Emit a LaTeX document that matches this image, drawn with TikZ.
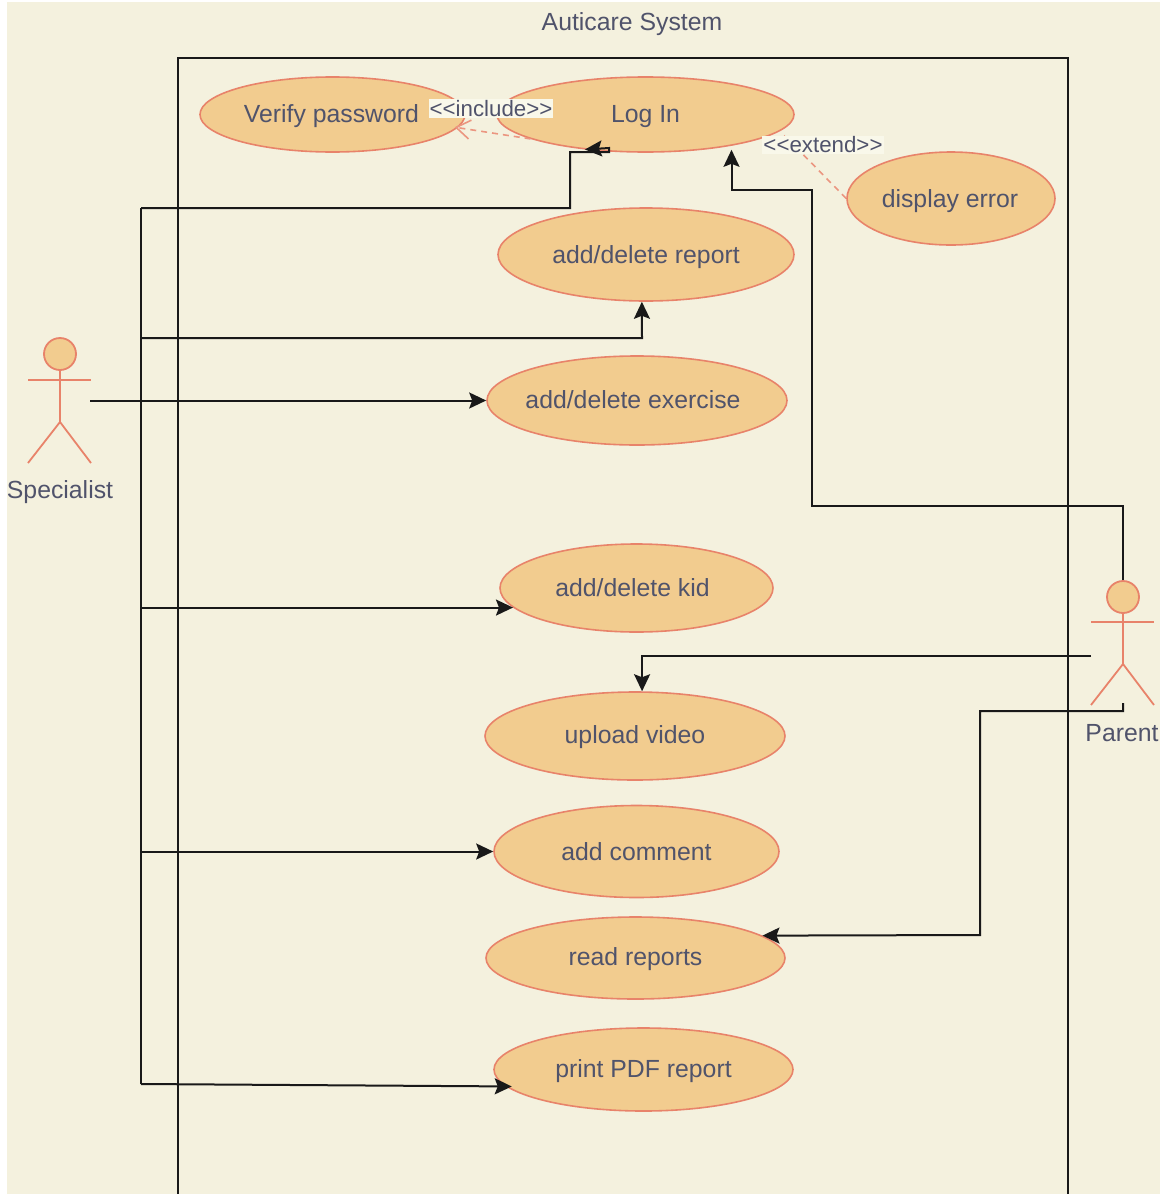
\documentclass[tikz,border=0pt]{standalone}
\usepackage{fontspec}
\setmainfont{Liberation Sans}
\usetikzlibrary{arrows.meta,shapes.geometric}
\definecolor{bgc}{HTML}{F4F1DE}
\definecolor{strokec}{HTML}{E8836A}
\definecolor{fillc}{HTML}{F2CC8F}
\definecolor{textc}{HTML}{50536B}
\definecolor{labelc}{HTML}{F9F8EA}
\tikzset{
  usecase/.style={ellipse,draw=strokec,fill=fillc,line width=1.6pt,inner sep=0pt,text=textc,text height=15pt,text depth=0pt,font=\fontsize{24.8}{29}\selectfont},
  plain/.style={text=textc,inner sep=0pt,font=\fontsize{24.8}{29}\selectfont},
  steret/.style={text=textc,fill=labelc,inner sep=1pt,font=\fontsize{22.3}{26}\selectfont},
  link/.style={draw=black!90,line width=2pt},
  assoc/.style={link,-{Stealth[length=17pt,width=16pt,inset=3pt]}},
  limb/.style={draw=strokec,line width=1.8pt},
  head/.style={circle,draw=strokec,fill=fillc,line width=1.8pt,inner sep=0pt,minimum size=32pt},
  dep/.style={draw=strokec!85,line width=1.6pt,dash pattern=on 6pt off 5pt},
}
\begin{document}
\begin{tikzpicture}[x=1pt,y=-1pt]
\useasboundingbox (0,0) rectangle (1165,1194);
\fill[bgc] (7,2) rectangle (1160,1194);
\node[plain] (title) at (632,24) {Auticare System};
\draw[link] (178,1194) -- (178,58) -- (1068,58) -- (1068,1194);

% use cases
\node[usecase,minimum width=265pt,minimum height=75pt] (verify) at (332.5,114.5) {\makebox[0pt]{Verify password\hspace*{2pt}}};
\node[usecase,minimum width=297pt,minimum height=75pt] (login) at (645.5,114.5) {Log In};
\node[usecase,text height=17pt,minimum width=208pt,minimum height=93pt] (error) at (951,198.5) {\makebox[0pt]{display error\hspace*{2pt}}};
\node[usecase,text height=17pt,minimum width=296pt,minimum height=93pt] (report) at (646,254.5) {\makebox[0pt]{add/delete report}};
\node[usecase,text height=16pt,minimum width=300pt,minimum height=89pt] (exercise) at (637,400.5) {\makebox[0pt]{add/delete exercise\hspace*{8pt}}};
\node[usecase,text height=16pt,minimum width=273pt,minimum height=88pt] (kid) at (636.5,588) {\makebox[0pt]{add/delete kid\hspace*{8pt}}};
\node[usecase,minimum width=300pt,minimum height=88pt] (upload) at (635,736) {upload video};
\node[usecase,text height=18pt,minimum width=285pt,minimum height=92pt] (comment) at (636.5,851.5) {add comment};
\node[usecase,minimum width=299pt,minimum height=82pt] (read) at (635.5,958) {read reports};
\node[usecase,minimum width=299pt,minimum height=83pt] (print) at (643.5,1069.5) {print PDF report};

% Specialist
\node[head] (spechead) at (60,354) {};
\coordinate (spechip) at (60,422);
\draw[limb] (spechead) -- (spechip);
\draw[limb] (28,380) -- (91,380);
\draw[limb] (28,463) -- (spechip) -- (91,463);
\node[plain] (specialist) at (60,492) {Specialist};
\coordinate (spechand) at (90,400.5);
\coordinate (trunktop) at (141,208);
\coordinate (trunkbottom) at (141,1084);

% Parent
\node[head] (parhead) at (1123,597) {};
\coordinate (parhip) at (1123,664);
\draw[limb] (parhead) -- (parhip);
\draw[limb] (1091,622) -- (1154,622);
\draw[limb] (1091,705) -- (parhip) -- (1154,705);
\node[plain] (parent) at (1122,733) {Parent};
\coordinate (parhand) at (1091,656);
\coordinate (parfoot) at (1123,703);

% dependencies
\draw[dep,shorten >=-3pt,-{Straight Barb[length=14pt,width=19pt]}] (login.192) -- (verify.-6.5);
\draw[dep,shorten >=6pt] (error.west) -- (login.-7.6);

% associations
\draw[link] (trunktop) -- (trunkbottom);
\draw[assoc] (trunktop) -- (570,208) -- (570,152) -- (609,152) -- (609,148) -- (login.210);
\draw[assoc] (141,338) -- (642,338) -- (report.-95);
\draw[assoc] (spechand) -- (exercise.west);
\draw[assoc] (trunktop |- kid.189.5) -- (kid.189.5);
\draw[assoc] (trunktop |- comment.west) -- (comment.west);
\draw[assoc,shorten >=-6pt] (trunkbottom) -- (print.187);
\draw[assoc,shorten >=4pt] (parhead.north) -- (1123,506) -- (812,506) -- (812,190) -| (login.-20.5);
\draw[assoc] (parhand) -| (upload.81);
\draw[assoc] (parfoot) -- (1123,711) -- (980,711) -- (980,935) -- (read.10.5);

% labels
\node[steret] (inclabel) at (491,108.5) {<{}<include>{}>};
\node[steret] (extlabel) at (823,145) {<{}<extend>{}>};
\end{tikzpicture}
\end{document}
